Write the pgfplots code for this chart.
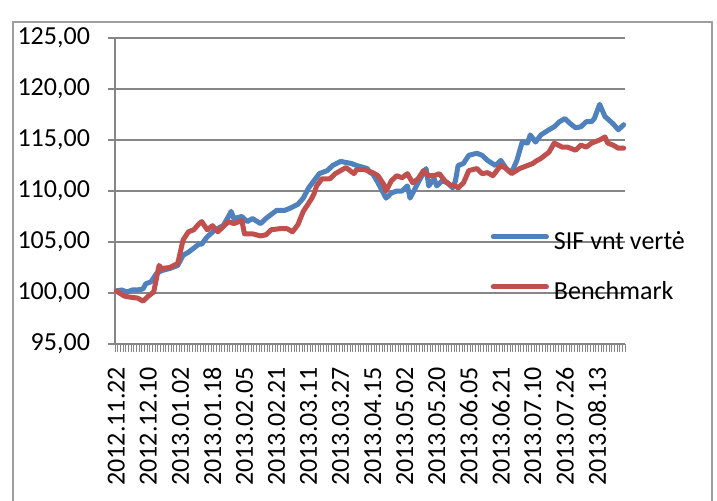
\documentclass[border=0pt]{standalone}
\usepackage{fontspec}
\setmainfont{Carlito}
\usepackage{pgfplots}
\pgfplotsset{compat=1.18}
\usepackage{pgfplotstable}
\definecolor{sifblue}{HTML}{4F81BD}
\definecolor{benchred}{HTML}{C0504D}
\definecolor{gridgray}{HTML}{868686}

\pgfplotstableread{
idx val
0 100.2
2 100.3
4 100.1
6 100.3
8 100.3
10 100.4
11 100.9
13 101.1
15 101.9
17 102.2
20 102.4
23 102.7
25 103.7
27 104.0
28 104.2
31 104.8
32 104.8
34 105.5
37 106.2
40 106.6
42 107.5
43 108.0
44 107.3
47 107.5
49 107.0
51 107.3
54 106.8
56 107.3
60 108.1
63 108.1
65 108.3
68 108.7
70 109.3
72 110.3
74 111.0
76 111.7
79 112.0
81 112.5
84 112.9
86 112.8
88 112.7
90 112.5
94 112.2
95 111.8
96 111.7
98 110.8
101 109.3
103 109.8
105 110.0
107 110.0
109 110.5
110 109.3
112 110.3
114 111.3
116 112.2
117 110.5
119 111.2
120 110.5
122 111.0
124 110.8
126 110.3
127 111.0
128 112.5
130 112.7
132 113.5
135 113.7
137 113.5
139 113.0
142 112.5
144 113.0
146 112.2
148 111.8
150 113.0
152 114.8
154 114.7
155 115.5
157 114.8
159 115.5
162 116.0
164 116.3
166 116.8
168 117.1
170 116.6
172 116.2
174 116.3
176 116.8
178 116.8
179 117.1
181 118.5
183 117.3
186 116.6
188 116.0
190 116.5
}\sifdata

\pgfplotstableread{
idx val
0 100.2
3 99.7
5 99.6
8 99.5
10 99.2
12 99.7
14 100.1
16 102.7
17 102.4
20 102.5
23 102.9
25 105.2
27 106.0
29 106.2
31 106.8
32 107.0
34 106.2
36 106.6
38 106.0
40 106.5
42 107.0
44 106.8
47 107.1
48 105.8
51 105.8
54 105.6
56 105.7
58 106.2
61 106.3
64 106.3
66 106.0
68 106.7
70 108.0
73 109.2
74 109.7
75 110.5
77 111.2
80 111.2
82 111.7
84 112.0
86 112.3
89 111.7
90 112.1
93 112.1
96 111.8
98 111.5
100 110.7
101 110.0
103 111.0
105 111.5
107 111.3
109 111.7
111 110.8
113 111.2
115 112.0
117 111.5
119 111.5
121 111.7
123 111.0
125 110.6
127 110.5
128 110.3
130 110.8
132 112.0
135 112.2
137 111.7
139 111.8
141 111.5
144 112.5
146 112.2
148 111.7
151 112.2
154 112.5
156 112.7
157 112.9
159 113.2
162 113.8
164 114.7
167 114.3
169 114.3
172 114.0
174 114.5
176 114.3
178 114.7
181 115.0
183 115.3
184 114.7
186 114.5
188 114.2
190 114.2
}\benchdata

\begin{document}
\fontsize{13pt}{15.5pt}\selectfont
\begin{tikzpicture}
\path[use as bounding box] (0pt,0pt) rectangle (358.5pt,250pt);
\draw[gridgray!80, line width=0.6pt] (6.5pt,-3pt) -- (6.5pt,239pt) -- (356pt,239pt) -- (356pt,-3pt);
\begin{axis}[
  at={(57.5pt,78pt)}, anchor=south west,
  scale only axis, width=255pt, height=153pt,
  xmin=-0.5, xmax=190.5, ymin=95, ymax=125,
  axis x line=bottom, axis y line=left,
  axis line style={-, draw=gridgray, line width=0.75pt},
  ytick={95,100,...,125},
  ymajorgrids, major grid style={draw=gridgray, line width=0.75pt},
  xtick={0,12,...,180},
  xticklabels={2012.11.22,2012.12.10,2013.01.02,2013.01.18,2013.02.05,2013.02.21,2013.03.11,2013.03.27,2013.04.15,2013.05.02,2013.05.20,2013.06.05,2013.06.21,2013.07.10,2013.07.26,2013.08.13},
  minor xtick={-0.5,0.5,...,190.5},
  tick align=outside,
  major tick length=3.5pt,
  minor tick length=4pt,
  every major x tick/.style={draw=none},
  every minor x tick/.style={draw=gridgray, line width=0.4pt},
  every major y tick/.style={draw=gridgray, line width=0.75pt},
  xticklabel shift=3.5pt,
  yticklabel shift=4.5pt,
  xticklabel style={rotate=90, anchor=east, font=\fontsize{13pt}{15.5pt}\selectfont, text=black},
  yticklabel style={font=\fontsize{13pt}{15.5pt}\selectfont, text=black,
    /pgf/number format/fixed, /pgf/number format/fixed zerofill,
    /pgf/number format/precision=2, /pgf/number format/use comma,
    /pgf/number format/assume math mode=true},
  legend style={at={(0.736,0.246)}, anchor=west, draw=none, fill=none,
    inner sep=0pt, row sep=13pt, column sep=2.5pt,
    nodes={inner sep=0pt, anchor=west, text height=9pt, text depth=3pt},
    font=\fontsize{13pt}{15.5pt}\selectfont},
  legend cell align=left,
  legend image code/.code={\draw[#1, line width=2.6pt] (0pt,3.5pt) -- (26.5pt,3.5pt);},
  clip=false,
]
\addplot[sifblue, line width=2.5pt, line join=round, line cap=round] table[x=idx,y=val] {\sifdata};
\addlegendentry{SIF vnt vertė}
\addplot[benchred, line width=2.5pt, line join=round, line cap=round] table[x=idx,y=val] {\benchdata};
\addlegendentry{Benchmark}
\end{axis}
\end{tikzpicture}
\end{document}
